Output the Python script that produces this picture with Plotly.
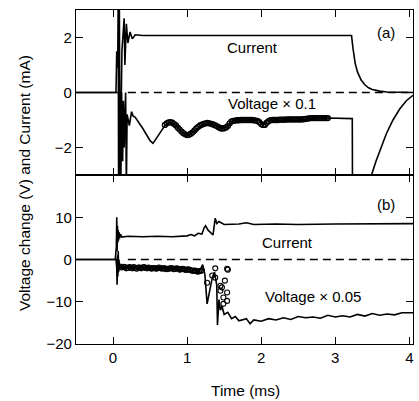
import plotly.graph_objects as go

# ---------------- Panel (a) ----------------
cur_a_t = [-0.5, 0.04, 0.05, 0.06, 0.065, 0.07, 0.075, 0.085, 0.095, 0.12, 0.15, 0.16, 0.18, 0.20, 0.23,
           0.26, 0.30, 0.40, 1.0, 2.0, 3.22, 3.24, 3.27, 3.30, 3.35, 3.40, 3.45, 3.50, 3.60, 3.70, 4.05]
cur_a_v = [0.0, 0.0, 1.5, 0.9, 1.6, 3.5, -3.5, 3.5, -3.5, 1.5, 2.7, 1.0, 2.5, 1.8, 2.2,
           1.95, 2.1, 2.07, 2.07, 2.07, 2.07, 1.6, 1.05, 0.75, 0.45, 0.28, 0.17, 0.11, 0.05, 0.02, 0.0]

volt_a_t = [-0.5, 0.10, 0.105, 0.115, 0.13, 0.14, 0.15, 0.16, 0.17, 0.18, 0.19, 0.22, 0.25, 0.27, 0.30,
            0.40, 0.50, 0.54, 0.60, 0.70, 0.77, 0.85, 0.95, 1.02, 1.10, 1.20, 1.31, 1.40, 1.47, 1.55,
            1.62, 1.80, 1.98, 2.02, 2.08, 2.30, 2.60, 2.62, 2.90, 3.23, 3.235, 3.47, 3.49, 3.55, 3.62,
            3.69, 3.78, 3.87, 3.96, 4.05]
volt_a_v = [0.0, 0.0, -3.5, 0.0, -2.5, -0.3, -2.0, -0.5, 0.0, -3.5, -0.8, -1.2, -0.7, -0.85, -0.9,
            -1.3, -1.75, -1.85, -1.6, -1.2, -1.08, -1.2, -1.5, -1.56, -1.4, -1.2, -1.12, -1.2, -1.31, -1.25,
            -1.02, -1.0, -1.0, -1.2, -1.02, -1.0, -1.0, -0.95, -0.93, -0.95, -5.0, -5.0, -3.0, -2.5, -2.0,
            -1.5, -1.0, -0.6, -0.3, -0.1]

circ_a_t = [0.70, 0.725, 0.75, 0.775, 0.80, 0.825, 0.85, 0.875, 0.90, 0.925, 0.95, 0.975, 1.00, 1.025,
            1.05, 1.075, 1.10, 1.125, 1.15, 1.175, 1.20, 1.225, 1.25, 1.275, 1.30, 1.325, 1.35, 1.375,
            1.40, 1.425, 1.45, 1.475, 1.50, 1.525, 1.55, 1.575, 1.60, 1.625, 1.65, 1.675, 1.70, 1.725,
            1.75, 1.775, 1.80, 1.825, 1.85, 1.875, 1.90, 1.925, 1.95, 1.975, 2.00, 2.025, 2.05, 2.075,
            2.10, 2.125, 2.15, 2.175, 2.20, 2.225, 2.25, 2.275, 2.30, 2.325, 2.35, 2.375, 2.40, 2.425,
            2.45, 2.475, 2.50, 2.525, 2.55, 2.575, 2.60, 2.625, 2.65, 2.675, 2.70, 2.725, 2.75, 2.775,
            2.80, 2.825, 2.85, 2.875, 2.90]
circ_a_v = [-1.18, -1.12, -1.09, -1.08, -1.10, -1.15, -1.20, -1.28, -1.35, -1.42, -1.48, -1.52, -1.55, -1.54,
            -1.50, -1.45, -1.38, -1.31, -1.25, -1.20, -1.17, -1.14, -1.12, -1.11, -1.12, -1.14, -1.16, -1.19,
            -1.22, -1.26, -1.30, -1.31, -1.30, -1.27, -1.22, -1.12, -1.05, -1.03, -1.02, -1.01, -1.01, -1.00,
            -1.00, -1.00, -1.00, -1.00, -1.00, -1.00, -1.01, -1.02, -1.03, -1.08, -1.15, -1.18, -1.18, -1.10,
            -1.04, -1.01, -1.00, -1.00, -1.00, -1.00, -0.99, -0.99, -0.99, -0.99, -0.98, -0.98, -0.98, -0.98,
            -0.98, -0.98, -0.98, -0.98, -0.98, -0.97, -0.96, -0.95, -0.94, -0.93, -0.93, -0.93, -0.93, -0.93,
            -0.93, -0.93, -0.93, -0.93, -0.93]

# ---------------- Panel (b) ----------------
cur_b_t = [-0.5, 0.03, 0.045, 0.05, 0.055, 0.06, 0.065, 0.07, 0.075, 0.08, 0.09, 0.10, 0.12, 0.20, 0.40,
           0.60, 0.80, 1.00, 1.05, 1.10, 1.15, 1.20, 1.23, 1.25, 1.28, 1.32, 1.35, 1.37, 1.38, 1.40,
           1.43, 1.50, 1.70, 1.80, 1.90, 2.20, 2.50, 3.00, 3.50, 4.05]
cur_b_v = [0.0, 0.0, 3.0, 10.0, 2.0, 8.0, 4.0, 7.0, 4.5, 6.5, 5.0, 6.0, 5.3, 5.5, 5.4,
           5.5, 5.4, 5.6, 5.9, 5.6, 6.2, 6.0, 7.5, 8.0, 7.0, 6.2, 5.8, 8.5, 9.8, 8.5,
           9.0, 8.3, 8.4, 8.7, 8.3, 8.4, 8.3, 8.4, 8.4, 8.5]

volt_b_t = [-0.5, 0.04, 0.05, 0.055, 0.06, 0.065, 0.07, 0.075, 0.08, 0.09, 0.10, 0.12, 0.14, 0.16, 0.18,
            0.21, 0.24, 0.27, 0.30, 0.34, 0.38, 0.42, 0.46, 0.50, 0.54, 0.58, 0.62, 0.66, 0.70, 0.74,
            0.78, 0.82, 0.86, 0.90, 0.94, 0.98, 1.02, 1.06, 1.10, 1.14, 1.18, 1.21, 1.24, 1.27, 1.34,
            1.37, 1.40, 1.41, 1.43, 1.45, 1.47, 1.50, 1.55, 1.60, 1.65, 1.70, 1.80, 1.85, 1.90, 2.00,
            2.10, 2.20, 2.30, 2.40, 2.50, 2.60, 2.70, 2.80, 2.90, 3.00, 3.10, 3.20, 3.30, 3.40, 3.50,
            3.60, 3.70, 3.80, 3.90, 4.05]
volt_b_v = [0.0, 0.0, -2.0, -6.0, 1.0, -4.0, 2.0, -3.0, 0.0, -2.5, -1.0, -2.3, -1.4, -2.2, -1.6,
            -2.1, -1.7, -2.0, -1.8, -2.2, -1.7, -2.1, -1.8, -2.2, -1.8, -2.3, -1.9, -2.2, -1.8, -2.4,
            -1.9, -2.3, -2.0, -2.5, -2.0, -2.6, -2.1, -3.0, -2.2, -3.2, -2.4, -1.2, -3.5, -10.5, -4.3,
            -3.0, -6.0, -15.5, -9.5, -12.0, -11.0, -13.0, -12.5, -14.0, -13.5, -14.5, -14.0, -15.2, -14.3, -14.6,
            -14.0, -14.3, -13.8, -14.2, -13.5, -13.8, -13.6, -13.9, -13.2, -13.6, -13.3, -13.6, -13.0, -13.4, -12.8,
            -13.2, -12.9, -13.1, -12.6, -12.6]

circ_b_t = [0.12, 0.14, 0.16, 0.18, 0.20, 0.22, 0.24, 0.26, 0.28, 0.30, 0.32, 0.34, 0.36, 0.38, 0.40,
            0.42, 0.44, 0.46, 0.48, 0.50, 0.52, 0.54, 0.56, 0.58, 0.60, 0.62, 0.64, 0.66, 0.68, 0.70,
            0.72, 0.74, 0.76, 0.78, 0.80, 0.82, 0.84, 0.86, 0.88, 0.90, 0.92, 0.94, 0.96, 0.98, 1.00,
            1.02, 1.04, 1.06, 1.08, 1.10, 1.12, 1.14, 1.16, 1.18, 1.20,
            1.27, 1.34, 1.38, 1.38, 1.45, 1.45, 1.47, 1.49, 1.49, 1.51, 1.54, 1.54, 1.54, 1.55]
circ_b_v = [-1.9, -1.7, -1.8, -2.1, -2.0, -1.8, -1.9, -2.1, -1.8, -2.0, -2.2, -1.9, -1.9, -2.1, -1.9,
            -1.8, -2.0, -2.1, -1.9, -2.0, -2.2, -2.0, -2.0, -2.2, -2.1, -1.9, -2.0, -2.2, -2.1, -2.1,
            -2.3, -2.2, -2.2, -2.0, -2.1, -2.3, -2.2, -2.1, -2.2, -2.4, -2.3, -2.2, -2.3, -2.5, -2.4,
            -2.3, -2.5, -2.6, -2.7, -2.6, -2.7, -2.9, -2.8, -2.7, -2.6,
            -5.5, -3.8, -2.1, -4.3, -6.2, -7.4, -6.6, -9.0, -10.5, -5.0, -2.2, -7.8, -9.8, -2.4]

zero_t = [0.2, 4.05]
zero_v = [0.0, 0.0]

x_ticks = [0, 1, 2, 3, 4]
ya_ticks = [-2, 0, 2]
yb_ticks = [-20, -10, 0, 10]

FONT = "Liberation Sans, Arial, Helvetica, sans-serif"
LW = 1.6

fig = go.Figure()

# panel (a) -> xaxis2 / yaxis2
fig.add_trace(go.Scatter(x=zero_t, y=zero_v, mode="lines", xaxis="x2", yaxis="y2",
                         line=dict(color="black", width=1.3, dash="8px,5px")))
fig.add_trace(go.Scatter(x=cur_a_t, y=cur_a_v, mode="lines", xaxis="x2", yaxis="y2",
                         line=dict(color="black", width=LW)))
fig.add_trace(go.Scatter(x=volt_a_t, y=volt_a_v, mode="lines", xaxis="x2", yaxis="y2",
                         line=dict(color="black", width=LW)))
fig.add_trace(go.Scatter(x=circ_a_t, y=circ_a_v, mode="markers", xaxis="x2", yaxis="y2",
                         marker=dict(symbol="circle-open", size=5, color="black", line=dict(width=1.3)),
                         cliponaxis=True))

# panel (b) -> xaxis / yaxis
fig.add_trace(go.Scatter(x=zero_t, y=zero_v, mode="lines",
                         line=dict(color="black", width=1.3, dash="8px,5px")))
fig.add_trace(go.Scatter(x=cur_b_t, y=cur_b_v, mode="lines",
                         line=dict(color="black", width=LW)))
fig.add_trace(go.Scatter(x=volt_b_t, y=volt_b_v, mode="lines",
                         line=dict(color="black", width=LW)))
fig.add_trace(go.Scatter(x=circ_b_t, y=circ_b_v, mode="markers",
                         marker=dict(symbol="circle-open", size=5, color="black", line=dict(width=1.1)),
                         cliponaxis=True))

split = 169 / 334

common_x = dict(range=[-0.5, 4.05], tickvals=x_ticks, ticks="inside", ticklen=7, tickwidth=1.4,
                tickcolor="black", showline=True, linecolor="black", linewidth=1.3, mirror="ticks",
                showgrid=False, zeroline=False)
common_y = dict(ticks="inside", ticklen=7, tickwidth=1.4, tickcolor="black", showline=True,
                linecolor="black", linewidth=1.3, mirror="ticks", showgrid=False, zeroline=False,
                tickfont=dict(family=FONT, size=15, color="black"))

fig.update_layout(
    width=419, height=401,
    margin=dict(l=76, r=6, t=10, b=57),
    paper_bgcolor="white", plot_bgcolor="white",
    showlegend=False,
    font=dict(family=FONT, size=15, color="black"),
    xaxis=dict(**common_x, anchor="y", tickfont=dict(family=FONT, size=15, color="black")),
    yaxis=dict(**common_y, domain=[0, split], range=[-20, 20], tickvals=yb_ticks, anchor="x"),
    xaxis2=dict(**common_x, anchor="y2", showticklabels=False, matches="x"),
    yaxis2=dict(**common_y, domain=[split, 1], range=[-3, 3], tickvals=ya_ticks, anchor="x2"),
    annotations=[
        dict(text="(a)", x=3.68, y=2.18, xref="x2", yref="y2", showarrow=False, font=dict(size=15)),
        dict(text="Current", x=1.88, y=1.64, xref="x2", yref="y2", showarrow=False, font=dict(size=15)),
        dict(text="Voltage × 0.1", x=2.15, y=-0.4, xref="x2", yref="y2", showarrow=False, font=dict(size=15)),
        dict(text="(b)", x=3.68, y=12.9, xref="x", yref="y", showarrow=False, font=dict(size=15)),
        dict(text="Current", x=2.36, y=4.0, xref="x", yref="y", showarrow=False, font=dict(size=15)),
        dict(text="Voltage × 0.05", x=2.7, y=-8.8, xref="x", yref="y", showarrow=False, font=dict(size=15)),
        dict(text="Voltage change (V) and Current (mA)", x=(24 - 76) / 337, y=(344 - 183) / 334,
             xref="paper", yref="paper", textangle=-90, showarrow=False, font=dict(size=15.5),
             xanchor="center", yanchor="middle"),
        dict(text="Time (ms)", x=(245 - 76) / 337, y=(344 - 390) / 334, xref="paper", yref="paper",
             showarrow=False, font=dict(size=15.5), xanchor="center", yanchor="middle"),
    ],
)

fig.write_html("out.html")
